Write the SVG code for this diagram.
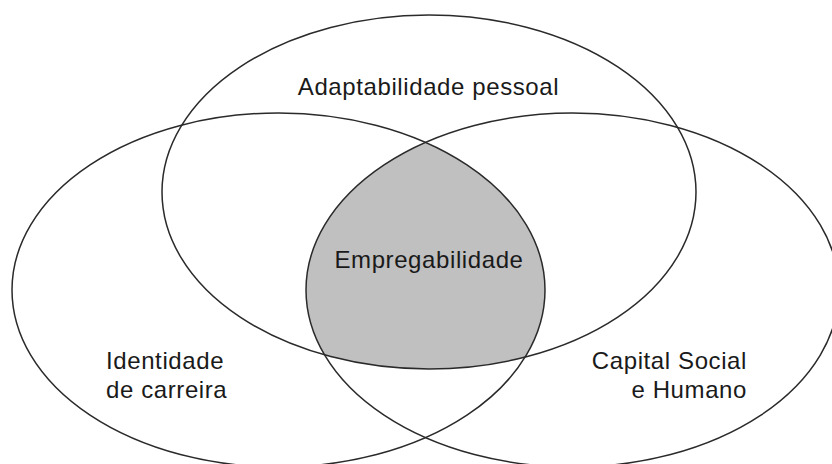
<svg xmlns="http://www.w3.org/2000/svg" width="832" height="464" viewBox="0 0 832 464">
  <style>
    .ring { fill: none; stroke: #2a2a2a; stroke-width: 1.5; }
    .lbl { font-family: "Liberation Sans", Arial, sans-serif; font-size: 24px; letter-spacing: 0.6px; fill: #1a1a1a; }
  </style>
  <defs>
    <clipPath id="clipLeft">
      <ellipse cx="278.5" cy="290" rx="266.5" ry="177"/>
    </clipPath>
    <clipPath id="clipRight">
      <ellipse cx="572.5" cy="290" rx="266.5" ry="177"/>
    </clipPath>
  </defs>
  <rect x="0" y="0" width="832" height="464" fill="#ffffff"/>

  <g id="empregabilidade">
    <g clip-path="url(#clipLeft)">
      <ellipse cx="429" cy="192" rx="267" ry="177" fill="#c0c0c0" clip-path="url(#clipRight)"/>
    </g>
    <text class="lbl" x="429" y="268" text-anchor="middle">Empregabilidade</text>
  </g>

  <g id="adaptabilidade">
    <ellipse class="ring" cx="429" cy="192" rx="267" ry="177"/>
    <text class="lbl" x="428.5" y="95" text-anchor="middle">Adaptabilidade pessoal</text>
  </g>

  <g id="identidade">
    <ellipse class="ring" cx="278.5" cy="290" rx="266.5" ry="177"/>
    <text class="lbl" x="106" y="369">Identidade</text>
    <text class="lbl" x="106" y="398">de carreira</text>
  </g>

  <g id="capital">
    <ellipse class="ring" cx="572.5" cy="290" rx="266.5" ry="177"/>
    <text class="lbl" x="747" y="369" text-anchor="end">Capital Social</text>
    <text class="lbl" x="747" y="398" text-anchor="end">e Humano</text>
  </g>
</svg>
